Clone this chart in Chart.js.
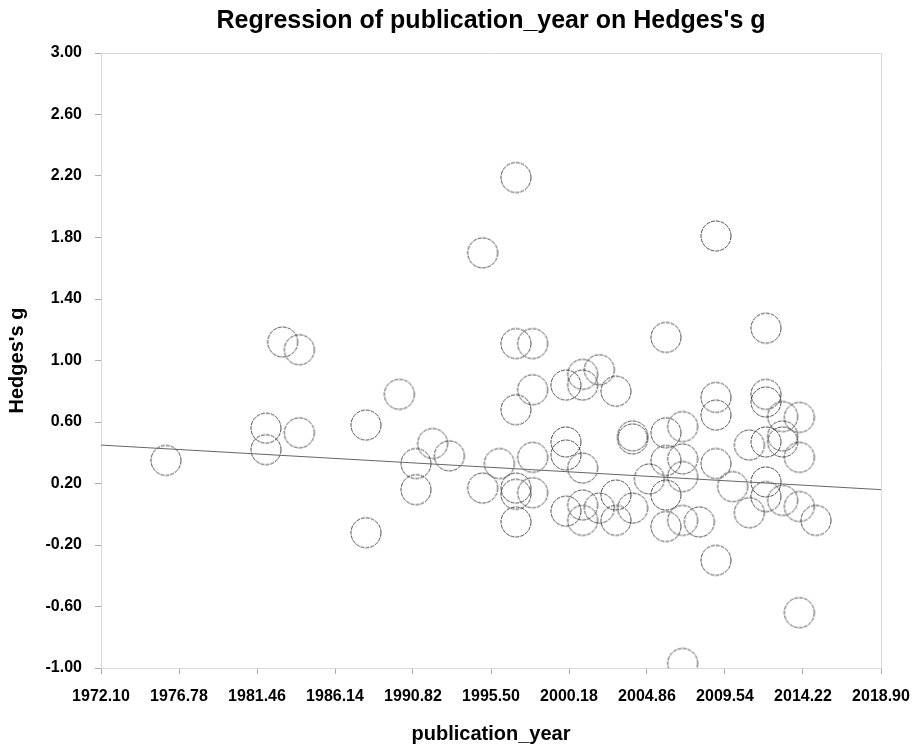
<!DOCTYPE html>
<html>
<head>
<meta charset="utf-8">
<script src="https://cdn.jsdelivr.net/npm/chart.js@4"></script>
<style>
  html,body{margin:0;padding:0;background:#fff;}
  #wrap{width:917px;height:744px;}
</style>
</head>
<body>
<div id="wrap"><canvas id="c" width="917" height="744"></canvas></div>
<script>
// ---- data ----
const years = [
  1976,
  1982, 1982,
  1983,
  1984, 1984,
  1988, 1988,
  1990,
  1991, 1991,
  1992,
  1993,
  1995, 1995,
  1996,
  1997, 1997, 1997, 1997, 1997, 1997,
  1998, 1998, 1998, 1998,
  2000, 2000, 2000, 2000,
  2001, 2001, 2001, 2001, 2001,
  2002, 2002,
  2003, 2003, 2003,
  2004, 2004, 2004,
  2005,
  2006, 2006, 2006, 2006, 2006,
  2007, 2007, 2007, 2007, 2007,
  2008,
  2009, 2009, 2009, 2009, 2009,
  2010,
  2011, 2011,
  2012, 2012, 2012, 2012, 2012, 2012,
  2013, 2013, 2013, 2013,
  2014, 2014, 2014, 2014,
  2015
];
const hedgesG = [
  0.35,
  0.56, 0.42,
  1.12,
  1.07, 0.53,
  0.58, -0.12,
  0.78,
  0.33, 0.16,
  0.46,
  0.38,
  1.70, 0.17,
  0.33,
  2.19, 1.11, 0.68, 0.17, 0.13, -0.05,
  1.11, 0.81, 0.37, 0.14,
  0.84, 0.47, 0.385, 0.02,
  0.91, 0.84, 0.30, 0.06, -0.04,
  0.94, 0.04,
  0.80, 0.125, -0.04,
  0.51, 0.49, 0.04,
  0.23,
  1.15, 0.53, 0.35, 0.125, -0.08,
  0.57, 0.36, 0.245, -0.04, -0.97,
  -0.05,
  1.81, 0.76, 0.645, 0.33, -0.30,
  0.18,
  0.45, 0.01,
  1.21, 0.78, 0.73, 0.47, 0.21, 0.115,
  0.635, 0.51, 0.47, 0.09,
  0.63, 0.37, 0.05, -0.64,
  -0.04
];
const regressionX = [1972.10, 2018.90];
const regressionY = [0.45, 0.16];
const xTickValues = [1972.10, 1976.78, 1981.46, 1986.14, 1990.82, 1995.50, 2000.18, 2004.86, 2009.54, 2014.22, 2018.90];
const yTickValues = [3.00, 2.60, 2.20, 1.80, 1.40, 1.00, 0.60, 0.20, -0.20, -0.60, -1.00];
const chartTitle = "Regression of publication_year on Hedges's g";
const xTitle = "publication_year";
const yTitle = "Hedges's g";

// ---- build ----
const scatterData = years.map((x, i) => ({ x: x, y: hedgesG[i] }));
const lineData = regressionX.map((x, i) => ({ x: x, y: regressionY[i] }));

// dashed hollow circle marker
const marker = document.createElement('canvas');
marker.width = 34; marker.height = 34;
(function(){
  const g = marker.getContext('2d');
  g.strokeStyle = 'rgba(45,45,45,0.85)';
  g.lineWidth = 1;
  g.setLineDash([4, 1]);
  g.beginPath();
  g.arc(17, 17, 15, 0, Math.PI * 2);
  g.stroke();
})();

const frame = {
  id: 'frame',
  afterDraw(chart) {
    const a = chart.chartArea, ctx = chart.ctx;
    ctx.save();
    ctx.strokeStyle = '#d8d8d8';
    ctx.lineWidth = 1;
    ctx.beginPath();
    ctx.moveTo(a.left, a.top + 0.5); ctx.lineTo(a.right + 0.5, a.top + 0.5);
    ctx.lineTo(a.right + 0.5, a.bottom);
    ctx.stroke();
    ctx.restore();
  }
};

const FONT = "'Liberation Sans', Arial, sans-serif";

new Chart(document.getElementById('c'), {
  type: 'scatter',
  data: {
    datasets: [
      {
        label: 'studies',
        data: scatterData,
        pointStyle: marker,
        pointRadius: 15,
        pointHoverRadius: 15,
        showLine: false,
        order: 2
      },
      {
        label: 'regression',
        type: 'line',
        data: lineData,
        borderColor: '#666',
        borderWidth: 1,
        pointRadius: 0,
        fill: false,
        order: 1
      }
    ]
  },
  options: {
    responsive: false,
    animation: false,
    events: [],
    layout: { padding: { top: 0, right: 36, bottom: 0, left: 0 } },
    plugins: {
      legend: { display: false },
      tooltip: { enabled: false },
      title: {
        display: true,
        text: chartTitle,
        fullSize: false,
        color: '#000',
        font: { family: FONT, size: 25, weight: 'bold', lineHeight: 1.2 },
        padding: { top: 6, bottom: 17 }
      }
    },
    scales: {
      x: {
        type: 'linear',
        min: 1972.10,
        max: 2018.90,
        afterBuildTicks(axis) { axis.ticks = xTickValues.map(v => ({ value: v })); },
        afterFit(axis) { axis.height = 76; axis.paddingLeft = 0; axis.paddingRight = 0; },
        ticks: {
          color: '#000',
          padding: 13,
          maxRotation: 0,
          autoSkip: false,
          font: { family: FONT, size: 16, weight: 'bold' },
          callback: v => Number(v).toFixed(2)
        },
        grid: { display: true, drawOnChartArea: false, drawTicks: true, tickLength: 6, color: '#aaa' },
        border: { display: true, color: '#d8d8d8' },
        title: {
          display: true,
          text: xTitle,
          color: '#000',
          font: { family: FONT, size: 20, weight: 'bold', lineHeight: 1.0 },
          padding: { top: 4, bottom: 0 }
        }
      },
      y: {
        type: 'linear',
        min: -1.00,
        max: 3.00,
        afterBuildTicks(axis) { axis.ticks = yTickValues.map(v => ({ value: v })); },
        afterFit(axis) { axis.width = 101; },
        ticks: {
          color: '#000',
          padding: 13,
          autoSkip: false,
          font: { family: FONT, size: 16, weight: 'bold' },
          callback: v => Number(v).toFixed(2)
        },
        grid: { display: true, drawOnChartArea: false, drawTicks: true, tickLength: 6, color: '#aaa' },
        border: { display: true, color: '#d8d8d8' },
        title: {
          display: true,
          text: yTitle,
          color: '#000',
          font: { family: FONT, size: 20, weight: 'bold', lineHeight: 1.2 },
          padding: { top: 5, bottom: 0 }
        }
      }
    }
  },
  plugins: [frame]
});
</script>
</body>
</html>
